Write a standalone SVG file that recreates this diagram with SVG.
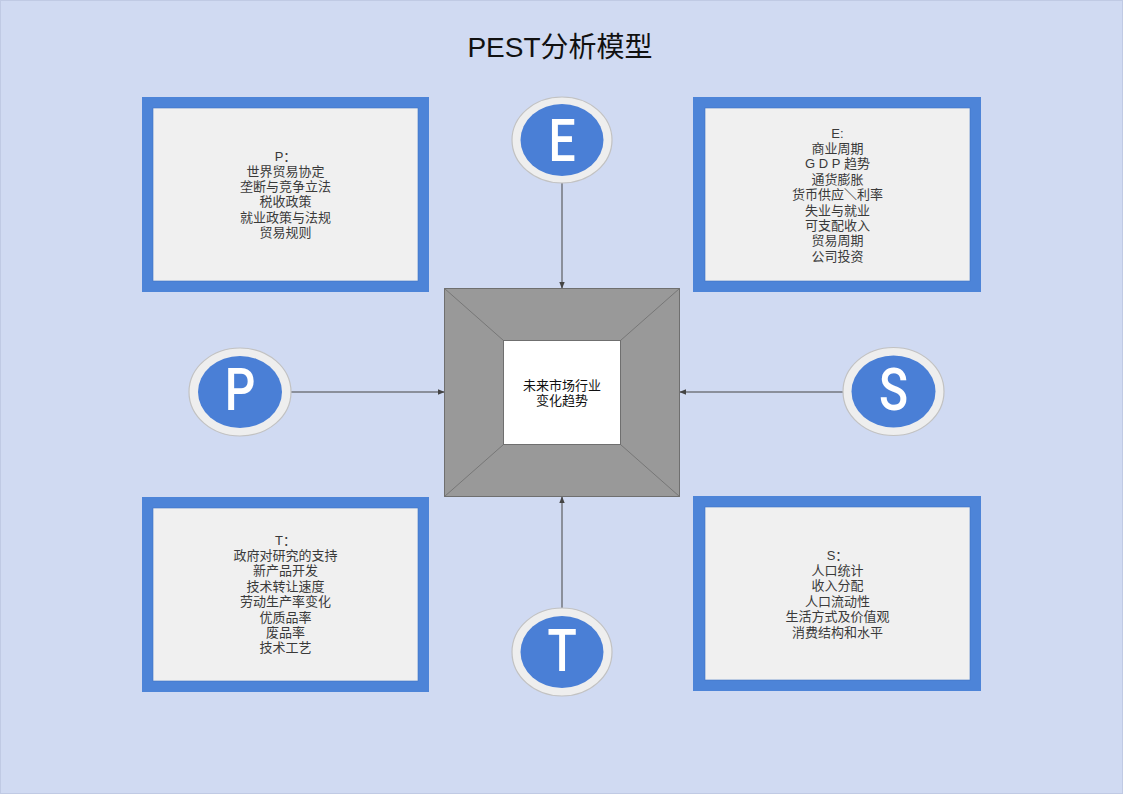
<svg xmlns="http://www.w3.org/2000/svg" width="1123" height="794" viewBox="0 0 1123 794">
<defs>
<style>
.bg{fill:#d0daf2}
.frame{fill:#4d84d8}
.panel{fill:#f0f0f0;stroke:#3f72c2;stroke-width:0.6}
.txt{font-family:"Liberation Sans","Noto Sans CJK SC",sans-serif;font-size:13px;fill:#3a3a3a;text-anchor:middle}
.ctr{font-family:"Liberation Sans","Noto Sans CJK SC",sans-serif;font-size:13px;fill:#111;text-anchor:middle}
.ring{fill:#eeeeee;stroke:#c2c2c2;stroke-width:1.2}
.dot{fill:#4a7fd6}
.big{font-family:Roboto,"Liberation Sans",sans-serif;font-size:60px;font-weight:500;fill:#ffffff;text-anchor:middle}
.conn{stroke:#444;stroke-width:1;fill:none;marker-end:url(#ah)}
</style>
<marker id="ah" viewBox="0 0 10 10" refX="9" refY="5" markerWidth="7" markerHeight="7" orient="auto" markerUnits="userSpaceOnUse">
<path d="M0,1 L10,5 L0,9 z" fill="#444"/>
</marker>
</defs>
<rect class="bg" x="0" y="0" width="1123" height="794"/>
<rect x="0.5" y="0.5" width="1122" height="793" fill="none" stroke="#c0cae4"/>
<text x="560" y="57" font-family="'Liberation Sans','Noto Sans CJK SC',sans-serif" font-size="28" fill="#111" text-anchor="middle">PEST分析模型</text>

<g id="connectors">
<line class="conn" x1="562" y1="182" x2="562" y2="288"/>
<line class="conn" x1="291" y1="392" x2="444" y2="392"/>
<line class="conn" x1="843" y1="392" x2="680" y2="392"/>
<line class="conn" x1="562" y1="608" x2="562" y2="497"/>
</g>

<g id="center">
<rect x="444.5" y="288.5" width="235" height="208" fill="#999999" stroke="#6f6f6f" stroke-width="1"/>
<line x1="444.5" y1="288.5" x2="503.5" y2="340.5" stroke="#777" stroke-width="1"/>
<line x1="679.5" y1="288.5" x2="620.5" y2="340.5" stroke="#777" stroke-width="1"/>
<line x1="444.5" y1="496.5" x2="503.5" y2="444.5" stroke="#777" stroke-width="1"/>
<line x1="679.5" y1="496.5" x2="620.5" y2="444.5" stroke="#777" stroke-width="1"/>
<rect x="503.5" y="340.5" width="117" height="104" fill="#ffffff" stroke="#6f6f6f" stroke-width="1"/>
<text class="ctr" x="562" y="389.5">未来市场行业</text>
<text class="ctr" x="562" y="404.5">变化趋势</text>
</g>

<g id="box-p">
<rect class="frame" x="142" y="97" width="287" height="195"/>
<rect class="panel" x="153" y="108" width="265" height="173"/>
<text class="txt" x="285.5" y="160.5">P：<tspan x="285.5" dy="15.3">世界贸易协定</tspan><tspan x="285.5" dy="15.3">垄断与竞争立法</tspan><tspan x="285.5" dy="15.3">税收政策</tspan><tspan x="285.5" dy="15.3">就业政策与法规</tspan><tspan x="285.5" dy="15.3">贸易规则</tspan></text>
</g>

<g id="box-e">
<rect class="frame" x="693" y="97" width="288" height="195"/>
<rect class="panel" x="705" y="108" width="265" height="173"/>
<text class="txt" x="837.5" y="137.5">E:<tspan x="837.5" dy="15.4">商业周期</tspan><tspan x="837.5" dy="15.4">G D P 趋势</tspan><tspan x="837.5" dy="15.4">通货膨胀</tspan><tspan x="837.5" dy="15.4">货币供应＼利率</tspan><tspan x="837.5" dy="15.4">失业与就业</tspan><tspan x="837.5" dy="15.4">可支配收入</tspan><tspan x="837.5" dy="15.4">贸易周期</tspan><tspan x="837.5" dy="15.4">公司投资</tspan></text>
</g>

<g id="box-t">
<rect class="frame" x="142" y="497" width="287" height="195"/>
<rect class="panel" x="153" y="508" width="265" height="173"/>
<text class="txt" x="285.5" y="544.5">T：<tspan x="285.5" dy="15.4">政府对研究的支持</tspan><tspan x="285.5" dy="15.4">新产品开发</tspan><tspan x="285.5" dy="15.4">技术转让速度</tspan><tspan x="285.5" dy="15.4">劳动生产率变化</tspan><tspan x="285.5" dy="15.4">优质品率</tspan><tspan x="285.5" dy="15.4">废品率</tspan><tspan x="285.5" dy="15.4">技术工艺</tspan></text>
</g>

<g id="box-s">
<rect class="frame" x="693" y="496" width="288" height="195"/>
<rect class="panel" x="705" y="507" width="265" height="173"/>
<text class="txt" x="837.5" y="559.5">S：<tspan x="837.5" dy="15.4">人口统计</tspan><tspan x="837.5" dy="15.4">收入分配</tspan><tspan x="837.5" dy="15.4">人口流动性</tspan><tspan x="837.5" dy="15.4">生活方式及价值观</tspan><tspan x="837.5" dy="15.4">消费结构和水平</tspan></text>
</g>

<g id="circle-e">
<ellipse class="ring" cx="562" cy="140" rx="50" ry="43"/>
<ellipse class="dot" cx="562" cy="140" rx="41.5" ry="36"/>
<text class="big" transform="translate(562 161) scale(0.8 1)" x="0" y="0">E</text>
</g>
<g id="circle-p">
<ellipse class="ring" cx="240" cy="392" rx="51" ry="44"/>
<ellipse class="dot" cx="240" cy="392" rx="42" ry="36"/>
<text class="big" transform="translate(240 410) scale(0.8 1)" x="0" y="0">P</text>
</g>
<g id="circle-s">
<ellipse class="ring" cx="893.5" cy="391.5" rx="50.5" ry="44"/>
<ellipse class="dot" cx="893.5" cy="391.5" rx="42" ry="36"/>
<text class="big" transform="translate(893.5 410) scale(0.8 1)" x="0" y="0">S</text>
</g>
<g id="circle-t">
<ellipse class="ring" cx="562" cy="652" rx="50" ry="44"/>
<ellipse class="dot" cx="562" cy="652" rx="41.5" ry="36"/>
<text class="big" transform="translate(562 671) scale(0.8 1)" x="0" y="0">T</text>
</g>
</svg>
